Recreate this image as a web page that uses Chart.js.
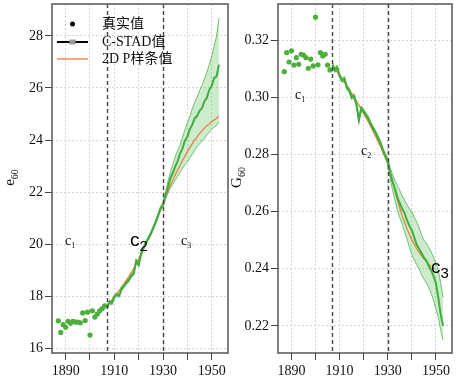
<!DOCTYPE html>
<html><head><meta charset="utf-8">
<script src="https://cdn.jsdelivr.net/npm/chart.js@4/dist/chart.umd.min.js"></script>
<style>
html,body{margin:0;padding:0;background:#fff;width:461px;height:381px;overflow:hidden;}
#wrap{position:relative;width:461px;height:381px;}
.pane{position:absolute;top:0;height:381px;}
#p1{left:0;width:232px;}
#p2{left:230px;width:231px;}
.t{position:absolute;font-family:"Liberation Serif","Noto Sans CJK SC",serif;color:#111;white-space:nowrap;line-height:1;}
.leg{font-size:14px;}
.cs{font-size:14px;}
.cs span{font-size:8px;position:relative;top:3px;}
.cb{font-family:"Liberation Sans",Arial,sans-serif;font-size:19px;color:#000;}
.cb span{font-size:15px;position:relative;top:5px;}
.yt{font-size:15px;transform:rotate(-90deg);transform-origin:center center;}
.yt span{font-size:10px;position:relative;top:4px;}
</style>
</head><body>
<div id="wrap">
  <div class="pane" id="p1"><canvas id="c1" width="232" height="381"></canvas></div>
  <div class="pane" id="p2"><canvas id="c2" width="231" height="381"></canvas></div>

  <div class="t leg" style="left:102px;top:17px;">真实值</div>
  <div class="t leg" style="left:102px;top:35px;">C-STAD值</div>
  <div class="t leg" style="left:102px;top:52px;">2D P样条值</div>

  <div class="t cs" style="left:65px;top:234px;">c<span>1</span></div>
  <div class="t cb" style="left:130px;top:230px;">c<span>2</span></div>
  <div class="t cs" style="left:181px;top:234px;">c<span>3</span></div>

  <div class="t cs" style="left:295px;top:88px;">c<span>1</span></div>
  <div class="t cs" style="left:361px;top:144px;">c<span>2</span></div>
  <div class="t cb" style="left:431px;top:257px;">c<span>3</span></div>

  <div class="t yt" style="left:-6px;top:170px;width:30px;text-align:center;">e<span>60</span></div>
  <div class="t yt" style="left:221px;top:170px;width:30px;text-align:center;">G<span>60</span></div>
</div>
<script>
// ---------- data ----------
const dotYears = [1887,1888,1889,1890,1891,1892,1893,1894,1895,1896,1897,1898,1899,1900,1901,1902,1903,1904,1905,1906];
const dotsE60 = [17.05,16.60,16.90,16.80,17.03,16.95,17.03,17.00,17.00,16.97,17.35,17.06,17.38,16.50,17.43,17.19,17.31,17.43,17.52,17.62];
const dotsG60 = [0.3090,0.3157,0.3124,0.3163,0.3113,0.3139,0.3116,0.3151,0.3148,0.3139,0.3102,0.3134,0.3110,0.3281,0.3114,0.3157,0.3145,0.3151,0.3113,0.3096];

const lineYears = [1907,1908,1909,1910,1911,1912,1913,1914,1915,1916,1917,1918,1919,1920,1921,1922,1923,1924,1925,1926,1927,1928,1929,
  1930,1931,1932,1933,1934,1935,1936,1937,1938,1939,1940,1941,1942,1943,1944,1945,1946,1947,1948,1949,1950,1951,1952,1953];

const cstadE60 = [17.55,17.78,17.72,17.98,18.05,18.02,18.28,18.40,18.52,18.62,18.78,18.88,19.35,19.20,19.62,19.85,20.05,20.22,20.40,20.62,20.85,21.10,21.38,
  21.50,21.88,22.18,22.52,22.72,22.98,23.18,23.48,23.68,23.97,24.12,24.42,24.58,24.83,24.92,25.12,25.22,25.48,25.62,25.93,26.08,26.38,26.45,26.90];
const cstadE60Hi = [17.62,17.85,17.79,18.05,18.12,18.09,18.35,18.47,18.59,18.69,18.85,18.95,19.42,19.27,19.69,19.92,20.12,20.29,20.47,20.69,20.92,21.17,21.45,
  21.58,21.95,22.40,22.75,23.05,23.35,23.60,23.80,24.10,24.40,24.65,24.90,25.20,25.45,25.65,25.90,26.10,26.35,26.60,26.90,27.20,27.60,28.00,28.70];
const cstadE60Lo = [17.48,17.71,17.65,17.91,17.98,17.95,18.21,18.33,18.45,18.55,18.71,18.81,19.28,19.13,19.55,19.78,19.98,20.15,20.33,20.55,20.78,21.03,21.31,
  21.42,21.72,21.95,22.15,22.30,22.45,22.60,22.75,22.90,23.05,23.15,23.30,23.45,23.60,23.75,23.85,23.95,24.05,24.20,24.30,24.40,24.50,24.55,24.70];
const psplineE60 = [17.60,17.72,17.85,17.98,18.10,18.22,18.35,18.48,18.62,18.76,18.91,19.07,19.24,19.42,19.61,19.81,20.01,20.21,20.42,20.64,20.86,21.09,21.32,
  21.55,21.80,22.02,22.25,22.45,22.65,22.85,23.02,23.20,23.38,23.55,23.70,23.85,24.00,24.12,24.25,24.35,24.45,24.55,24.62,24.70,24.77,24.84,24.92];

const cstadG60 = [0.3115,0.3095,0.3105,0.3075,0.3060,0.3065,0.3035,0.3025,0.3000,0.3005,0.2975,0.2920,0.2962,0.2950,0.2938,0.2925,0.2905,0.2890,0.2875,0.2858,0.2840,0.2815,0.2795,
  0.2775,0.2735,0.2705,0.2680,0.2650,0.2630,0.2610,0.2595,0.2570,0.2550,0.2535,0.2510,0.2485,0.2470,0.2455,0.2440,0.2430,0.2410,0.2395,0.2375,0.2350,0.2300,0.2240,0.2200];
const cstadG60Hi = [0.3123,0.3103,0.3113,0.3083,0.3068,0.3073,0.3043,0.3033,0.3008,0.3013,0.2983,0.2928,0.2970,0.2958,0.2946,0.2933,0.2913,0.2898,0.2883,0.2866,0.2848,0.2823,0.2803,
  0.2785,0.2755,0.2730,0.2710,0.2690,0.2675,0.2655,0.2640,0.2625,0.2610,0.2600,0.2580,0.2565,0.2545,0.2520,0.2500,0.2490,0.2475,0.2460,0.2440,0.2420,0.2395,0.2350,0.2300];
const cstadG60Lo = [0.3107,0.3087,0.3097,0.3067,0.3052,0.3057,0.3027,0.3017,0.2992,0.2997,0.2967,0.2912,0.2954,0.2942,0.2930,0.2917,0.2897,0.2882,0.2867,0.2850,0.2832,0.2807,0.2787,
  0.2765,0.2715,0.2675,0.2640,0.2605,0.2580,0.2555,0.2530,0.2505,0.2475,0.2450,0.2430,0.2415,0.2400,0.2380,0.2365,0.2350,0.2335,0.2315,0.2290,0.2260,0.2230,0.2185,0.2150];
const psplineG60 = [0.3110,0.3099,0.3088,0.3076,0.3064,0.3052,0.3040,0.3027,0.3014,0.3001,0.2987,0.2973,0.2959,0.2944,0.2929,0.2913,0.2897,0.2880,0.2863,0.2845,0.2827,0.2808,0.2789,
  0.2770,0.2738,0.2705,0.2672,0.2640,0.2612,0.2585,0.2562,0.2540,0.2520,0.2502,0.2486,0.2471,0.2458,0.2446,0.2435,0.2425,0.2416,0.2407,null,null,null,null,null];

const xTicks = [1890,1900,1910,1920,1930,1940,1950];
const xTickLabels = [1890,1910,1930,1950];
const e60Ticks = [16,18,20,22,24,26,28];
const g60Ticks = [0.22,0.24,0.26,0.28,0.30,0.32];
const breakYears = [1907,1930];

// ---------- styles ----------
const GREEN = '#3fae3a';
const DOT = '#4caf3c';
const BAND_FILL = 'rgba(90,190,90,0.30)';
const BAND_LINE = 'rgba(70,175,70,0.75)';
const ORANGE = '#e57c3e';
const FONT = {family:'"Liberation Serif", serif', size:14};

const pts = (xs, ys) => xs.map((x,i)=>({x, y: ys[i]}));

const decor = {
  id:'decor',
  afterDatasetsDraw(chart){
    const {ctx, chartArea:a, scales:{x}} = chart;
    ctx.save();
    ctx.strokeStyle = '#444'; ctx.lineWidth = 1.4; ctx.setLineDash([4,3]);
    breakYears.forEach(yr=>{
      const px = Math.round(x.getPixelForValue(yr))+0.5;
      ctx.beginPath(); ctx.moveTo(px, a.top); ctx.lineTo(px, a.bottom); ctx.stroke();
    });
    ctx.setLineDash([]);
    ctx.strokeStyle = '#555'; ctx.lineWidth = 1.5;
    ctx.strokeRect(a.left, a.top, a.right-a.left, a.bottom-a.top);
    ctx.restore();
  }
};

const legendMarks = {
  id:'legendMarks',
  afterDraw(chart){
    const ctx = chart.ctx;
    ctx.save();
    ctx.fillStyle = '#000';
    ctx.beginPath(); ctx.arc(72.5, 24, 2.5, 0, Math.PI*2); ctx.fill();
    ctx.strokeStyle = '#000'; ctx.lineWidth = 2;
    ctx.beginPath(); ctx.moveTo(57, 42); ctx.lineTo(88, 42); ctx.stroke();
    ctx.fillStyle = '#9a9a9a'; ctx.fillRect(69.5, 39.5, 6, 5);
    ctx.strokeStyle = ORANGE; ctx.lineWidth = 1.3;
    ctx.beginPath(); ctx.moveTo(57, 59); ctx.lineTo(88, 59); ctx.stroke();
    ctx.restore();
  }
};

function build(id, cfg){
  return new Chart(document.getElementById(id), {
    type:'line',
    data:{datasets:[
      {type:'scatter', data: pts(dotYears, cfg.dots), pointRadius:2.6, pointBackgroundColor:DOT, pointBorderWidth:0, showLine:false, order:0},
      {data: pts(lineYears, cfg.mid), borderColor:GREEN, borderWidth:2, pointRadius:0, fill:false, order:1, tension:0},
      {data: pts(lineYears, cfg.spl), borderColor:ORANGE, borderWidth:1.2, pointRadius:0, fill:false, order:2, tension:0, spanGaps:false},
      {data: pts(lineYears, cfg.hi), borderColor:BAND_LINE, borderWidth:1, pointRadius:0, fill:{target:4}, backgroundColor:BAND_FILL, order:3, tension:0},
      {data: pts(lineYears, cfg.lo), borderColor:BAND_LINE, borderWidth:1, pointRadius:0, fill:false, order:4, tension:0}
    ]},
    options:{
      responsive:false, animation:false, devicePixelRatio:1,
      layout:{padding:{top:3, right:cfg.padR, bottom:0, left:0}},
      plugins:{legend:{display:false}, tooltip:{enabled:false}},
      scales:{
        x:{type:'linear', min:1884.4, max:cfg.xmax,
          afterBuildTicks:s=>{s.ticks = xTicks.map(v=>({value:v}));},
          afterFit:s=>{s.height = 28; s.paddingLeft = 0; s.paddingRight = 0;},
          ticks:{font:FONT, color:'#111', maxRotation:0, autoSkip:false, padding:3,
            callback:v=> xTickLabels.includes(v) ? String(v) : ''},
          grid:{color:'#d3d3d3', lineWidth:1, tickLength:7, tickColor:'#444', tickWidth:1, tickBorderDash:[]},
          border:{display:false, dash:[2,2]}
        },
        y:{type:'linear', min:cfg.ymin, max:cfg.ymax,
          afterBuildTicks:s=>{s.ticks = cfg.yticks.map(v=>({value:v}));},
          afterFit:s=>{s.width = cfg.yw; s.paddingTop = 0; s.paddingBottom = 0;},
          ticks:{font:FONT, color:'#111', padding:2, callback:cfg.fmt},
          grid:{color:'#d3d3d3', lineWidth:1, tickLength:7, tickColor:'#444', tickWidth:1, tickBorderDash:[]},
          border:{display:false, dash:[2,2]}
        }
      }
    },
    plugins: cfg.legend ? [decor, legendMarks] : [decor]
  });
}

build('c1', {dots:dotsE60, mid:cstadE60, hi:cstadE60Hi, lo:cstadE60Lo, spl:psplineE60,
  ymin:15.81, ymax:29.23, yticks:e60Ticks, yw:52, padR:4, xmax:1956.7, fmt:v=>String(v), legend:true});
build('c2', {dots:dotsG60, mid:cstadG60, hi:cstadG60Hi, lo:cstadG60Lo, spl:psplineG60,
  ymin:0.2105, ymax:0.3327, yticks:g60Ticks, yw:48, padR:9, xmax:1956.7, fmt:v=>v.toFixed(2), legend:false});
</script>
</body></html>
